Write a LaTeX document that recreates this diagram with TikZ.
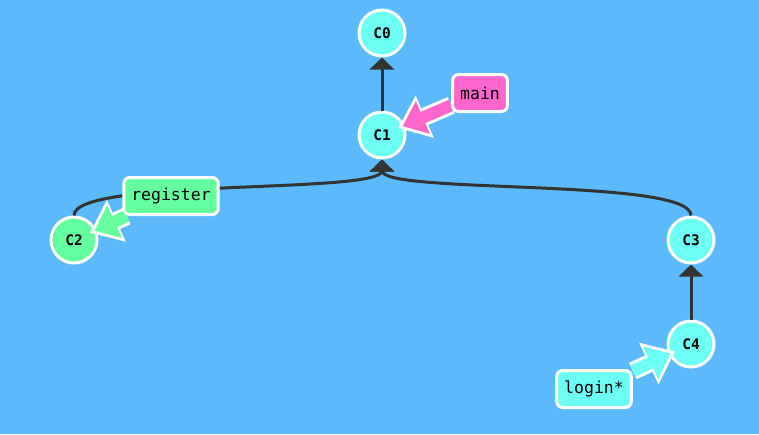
\documentclass[tikz,border=0pt]{standalone}
\usepackage{fontspec}
\setmonofont{DejaVu Sans Mono}
\usetikzlibrary{arrows.meta}

\definecolor{skyblue}{RGB}{92,185,252}
\definecolor{commitcyan}{RGB}{110,255,244}
\definecolor{commitgreen}{RGB}{102,255,160}
\definecolor{branchpink}{RGB}{255,102,204}
\definecolor{edgegray}{RGB}{51,51,51}

\pgfdeclarelayer{front}
\pgfsetlayers{main,front}

\tikzset{
  commit/.style={circle, draw=white, line width=3pt, fill=#1, minimum size=46pt, inner sep=0pt,
    font=\ttfamily\bfseries\fontsize{14.5}{14.5}\selectfont},
  branch/.style={rectangle, rounded corners=6pt, draw=white, line width=3pt, fill=#1,
    inner xsep=7.5pt, minimum height=37pt, font=\ttfamily\fontsize{16.5}{16.5}\selectfont},
  parent/.style={draw=edgegray, line width=3pt, -{Triangle[length=12pt,width=24pt]}},
  pointerout/.style={draw=white, line width=18pt, -{Triangle[length=29pt,width=44pt]}, shorten >=-7pt},
  pointerin/.style={draw=#1, line width=12pt, -{Triangle[length=22pt,width=34pt]}, shorten >=-2pt}
}

\begin{document}
\begin{tikzpicture}[x=1pt, y=-1pt]

  % Bounding box of the scheme
  \fill[skyblue] (0,0) rectangle (759,434);
  \useasboundingbox (0,0) rectangle (759,434);

  %%%%%%%%%%%%%%%%%%%%%%%%%%%%%%%%% Commits %%%%%%%%%%%%%%%%%%%%%%%%%%%%%%%%%%%%
  \node[commit=commitcyan]  (C0) at (382,33)  {C0};
  \node[commit=commitcyan]  (C1) at (382,135) {C1};
  \node[commit=commitgreen] (C2) at (74,240)  {C2};
  \node[commit=commitcyan]  (C3) at (691,240) {C3};
  \node[commit=commitcyan]  (C4) at (691,344) {C4};

  %%%%%%%%%%%%%%%%%%%%%%%%%%%%%%%%% Parent links %%%%%%%%%%%%%%%%%%%%%%%%%%%%%%%
  \draw[parent] (C1.north) -- (C0.south);
  \draw[parent] (C2.north) .. controls +(0,-38) and +(0,35) .. (C1.south);
  \draw[parent] (C3.north) .. controls +(0,-38) and +(0,35) .. (C1.south);
  \draw[parent] (C4.north) -- (C3.south);

  %%%%%%%%%%%%%%%%%%%%%%%%%%%%%%%%% Branch labels %%%%%%%%%%%%%%%%%%%%%%%%%%%%%%
  \begin{pgfonlayer}{front}
    \node[branch=branchpink]  (main)     at (480,93)  {main};
    \node[branch=commitgreen] (register) at (171,196) {register};
    \node[branch=commitcyan]  (login)    at (594,389) {login*};
  \end{pgfonlayer}

  % pointers from the labels to their commits
  \draw[pointerout] (main) -- (C1);
  \draw[pointerin=branchpink] (main) -- (C1);
  \draw[pointerout] (register) -- (C2);
  \draw[pointerin=commitgreen] (register) -- (C2);
  \draw[pointerout] (login) -- (C4);
  \draw[pointerin=commitcyan] (login) -- (C4);

\end{tikzpicture}
\end{document}
